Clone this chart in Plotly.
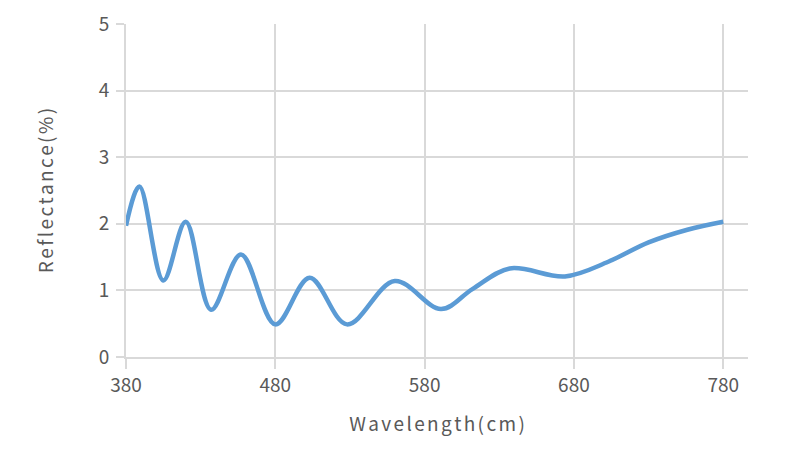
import plotly.graph_objects as go

# reflectance curve (turning points + a few on the smooth tail)
wavelength = [380, 389, 405, 420, 437, 457, 480, 503, 528, 560, 591, 612,
              637, 674, 703, 730, 756, 780]
reflectance = [1.97, 2.56, 1.15, 2.03, 0.71, 1.54, 0.49, 1.19, 0.49, 1.14,
               0.72, 1.02, 1.33, 1.21, 1.43, 1.72, 1.91, 2.03]

x_ticks = [380, 480, 580, 680, 780]
y_ticks = [0, 1, 2, 3, 4, 5]

FONT = "Noto Sans CJK SC, Noto Sans, sans-serif"
GRID = "#d9d9d9"
TEXT = "#595959"


def spaced(s):
    # no letter-spacing in plotly titles, so pad with hair spaces
    return "\u200a\u200a".join(s)


fig = go.Figure()
fig.add_trace(go.Scatter(
    x=wavelength,
    y=reflectance,
    mode="lines",
    line=dict(color="#5b9bd5", width=4.5, shape="spline", smoothing=1.0),
    showlegend=False,
    hoverinfo="skip",
))

# the page body adds an 8px offset, margins are compensated for it
fig.update_layout(
    width=800,
    height=455,
    margin=dict(l=118, r=60, t=16, b=106),
    paper_bgcolor="white",
    plot_bgcolor="white",
    font=dict(family=FONT, size=19, color=TEXT),
)

fig.update_xaxes(
    range=[380, 796.6],
    tickvals=x_ticks,
    ticktext=[str(v) for v in x_ticks],
    automargin=False,
    showgrid=True,
    gridcolor=GRID,
    gridwidth=2,
    showline=True,
    linecolor=GRID,
    linewidth=2,
    zeroline=False,
    ticks="outside",
    ticklen=10,
    tickwidth=2,
    tickcolor=GRID,
    tickfont=dict(size=19, color=TEXT),
    title=dict(text=spaced("Wavelength(cm)"), standoff=22,
               font=dict(size=19, color=TEXT)),
)

fig.update_yaxes(
    range=[0, 5],
    tickvals=y_ticks,
    automargin=False,
    showgrid=True,
    gridcolor=GRID,
    gridwidth=2,
    showline=True,
    linecolor=GRID,
    linewidth=2,
    zeroline=False,
    ticks="outside",
    ticklen=8,
    tickwidth=2,
    tickcolor=GRID,
    ticklabelstandoff=3,
    tickfont=dict(size=19, color=TEXT),
    title=dict(text=spaced("Reflectance(%)"), standoff=40,
               font=dict(size=19, color=TEXT)),
)

fig.write_html("out.html")
